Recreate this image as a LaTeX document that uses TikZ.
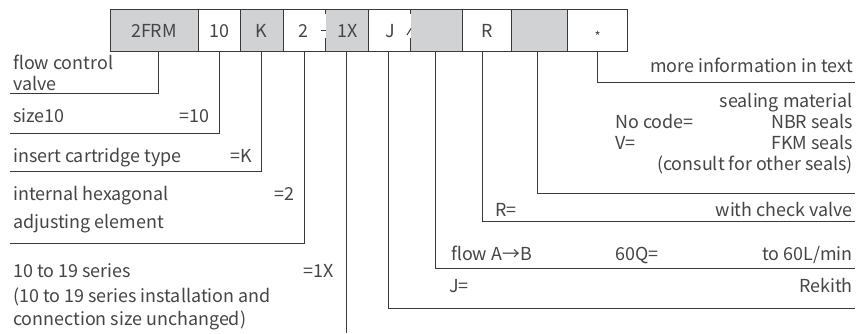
\documentclass[tikz,border=0pt]{standalone}
\usepackage{fontspec}
\setmainfont{Noto Sans CJK SC}
\definecolor{ink}{HTML}{3A3A3A}
\definecolor{txt}{HTML}{454545}
\definecolor{cellgray}{HTML}{D1D2D4}
\tikzset{
  cellfill/.style={draw=none, minimum height=42pt, inner sep=0pt, outer sep=0pt, anchor=north west},
  leader/.style={draw=ink, line width=1pt},
  frame/.style={draw=ink, line width=1pt},
  boxtxt/.style={text=txt, inner sep=0pt, anchor=base, font=\fontsize{17.9}{21}\selectfont},
  lbl/.style={text=txt, inner sep=0pt, anchor=base west, font=\fontsize{17.9}{21}\selectfont},
  rlbl/.style={lbl, anchor=base east},
}
\begin{document}
\begin{tikzpicture}[x=1pt,y=-1pt]
\useasboundingbox[fill=white] (0,0) rectangle (858,333);

% ---- ordering code cells ----
\node[cellfill, fill=cellgray, minimum width=88pt]   (c1)  at (110,9)   {};
\node[cellfill, fill=white,    minimum width=42pt]   (c2)  at (198,9)   {};
\node[cellfill, fill=cellgray, minimum width=43pt]   (c3)  at (240,9)   {};
\node[cellfill, fill=white,    minimum width=42.7pt] (c4a) at (283,9)   {};
\node[cellfill, fill=cellgray, minimum width=42.3pt] (c4b) at (325.7,9) {};
\node[cellfill, fill=white,    minimum width=42.7pt] (c5)  at (368,9)   {};
\node[cellfill, fill=cellgray, minimum width=52pt]   (c5b) at (410.7,9) {};
\node[cellfill, fill=white,    minimum width=48.3pt] (c6)  at (462.7,9) {};
\node[cellfill, fill=cellgray, minimum width=56.7pt] (c7)  at (511,9)   {};
\node[cellfill, fill=white,    minimum width=60pt]   (c8)  at (567.7,9) {};

% outline and dividers
\draw[frame] (c1.north west) rectangle (c8.south east);
\foreach \a/\b in {c1/c2, c2/c3, c3/c4a, c4b/c5, c5b/c6, c6/c7, c7/c8}
  \draw[frame] (\a.north east) -- (\a.south east);
% broken dividers: short ticks at top and bottom only
\foreach \a in {c4a, c5} {
  \draw[frame] (\a.north east) -- ++(0,5);
  \draw[frame] (\a.south east) -- ++(0,-13);
}
% separators printed inside the code
\draw[frame] (320.5,30) -- (325.5,30);
\draw[frame] (407,35) -- (411,28.5);

% cell texts
\node[boxtxt] (k1) at (154,37.5)   {2FRM};
\node[boxtxt] (k2) at (219,37.5)   {10};
\node[boxtxt] (k3) at (261.5,37.5) {K};
\node[boxtxt] (k4) at (303,37.5)   {2};
\node[boxtxt] (k5) at (348,37.5)   {1X};
\node[boxtxt] (k6) at (390,37.5)   {J};
\node[boxtxt] (k7) at (487,37.5)   {R};
\node[boxtxt, font=\fontsize{13}{15}\selectfont] (k8) at (597.7,41) {*};

% ---- leader ends ----
\coordinate (e1) at (10,93);
\coordinate (e2) at (10,133);
\coordinate (e3) at (10,171);
\coordinate (e4) at (10,243);
\coordinate (e5) at (347,333);
\coordinate (e6) at (855,308);
\coordinate (e7) at (855,268);
\coordinate (e8) at (855,221);
\coordinate (e9) at (855,193);
\coordinate (e10) at (855,82.5);

\draw[leader] ([xshift=4pt]c1.south) |- (e1);
\draw[leader] (c2.south) |- (e2);
\draw[leader] (c3.south) |- (e3);
\draw[leader] (c4a.south) |- (e4);
\draw[leader] (c4b.south) -- (c4b.south |- e5);
\draw[leader] ([xshift=-1pt]c5.south) |- (e6);
\draw[leader] ([xshift=-1.5pt]c5b.south) |- (e7);
\draw[leader] ([xshift=-4pt]c6.south) |- (e8);
\draw[leader] ([xshift=-2pt]c7.south) |- (e9);
\draw[leader] (c8.south) |- (e10);

% ---- left descriptions ----
\node[lbl]  (a1) at (13,69)  {flow control};
\node[lbl]  (a2) at (13,90)  {valve};
\node[lbl]  (b1) at (13,122) {size10};
\node[rlbl] (b2) at (210,122) {=10};
\node[lbl]  (d1) at (13,162) {insert cartridge type};
\node[rlbl] (d2) at (252,162) {=K};
\node[lbl]  (f1) at (13,200) {internal hexagonal};
\node[rlbl] (f2) at (295,200) {=2};
\node[lbl]  (f3) at (13,228) {adjusting element};
\node[lbl]  (g1) at (13,277) {10 to 19 series};
\node[rlbl] (g2) at (334,277) {=1X};
\node[lbl]  (g3) at (13,302) {(10 to 19 series installation and};
\node[lbl]  (g4) at (13,325) {connection size unchanged)};

% ---- right descriptions ----
\node[rlbl] (m1) at (853,72)  {more information in text};
\node[rlbl] (s1) at (853,107) {sealing material};
\node[lbl]  (s2) at (615,128) {No code=};
\node[rlbl] (s3) at (853,128) {NBR seals};
\node[lbl]  (s4) at (615,149) {V=};
\node[rlbl] (s5) at (853,149) {FKM seals};
\node[rlbl] (s6) at (853,170) {(consult for other seals)};
\node[lbl]  (r1) at (495,216) {R=};
\node[rlbl] (r2) at (853,216) {with check valve};
\node[lbl]  (q1) at (451,260) {flow A→B};
\node[lbl]  (q2) at (615,260) {60Q=};
\node[rlbl] (q3) at (853,260) {to 60L/min};
\node[lbl]  (j1) at (449,292) {J=};
\node[rlbl] (j2) at (853,292) {Rekith};
\end{tikzpicture}
\end{document}
